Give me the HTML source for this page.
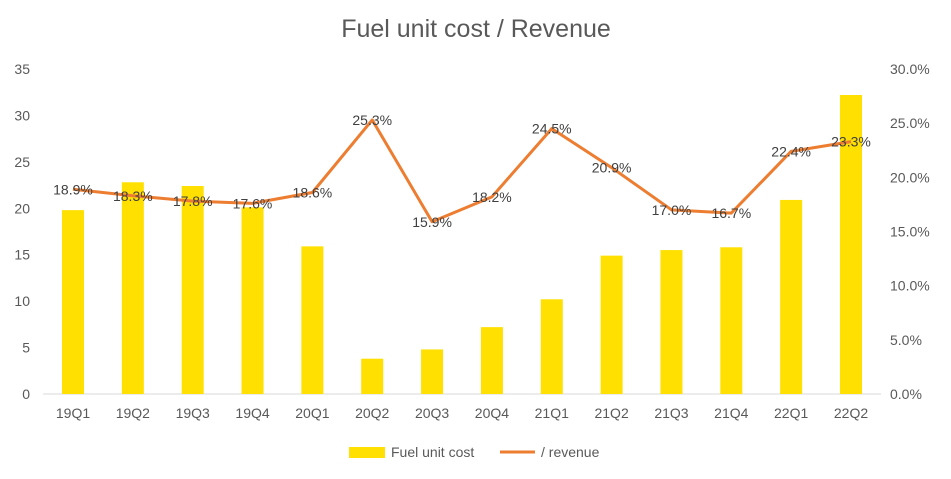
<!DOCTYPE html>
<html><head><meta charset="utf-8"><style>
html,body{margin:0;padding:0;background:#fff;}
svg{display:block;font-family:"Liberation Sans",Arial,sans-serif;}
</style></head><body>
<svg id="chart" width="951" height="479">
<text x="476" y="37" text-anchor="middle" font-size="25" fill="#595959">Fuel unit cost / Revenue</text>
<g id="axes"></g><g id="bars"></g><g id="line"></g><g id="labels"></g>
<g>
<rect x="349" y="447" width="36" height="11" fill="#FFE000"/>
<text x="391" y="457" font-size="14" fill="#595959">Fuel unit cost</text>
<line x1="500" y1="452" x2="535" y2="452" stroke="#ED7D31" stroke-width="3"/>
<text x="541" y="457" font-size="14" fill="#595959">/ revenue</text>
</g>
</svg>
<script>
const categories=["19Q1","19Q2","19Q3","19Q4","20Q1","20Q2","20Q3","20Q4","21Q1","21Q2","21Q3","21Q4","22Q1","22Q2"];
const fuelCost=[19.8,22.8,22.4,20.1,15.9,3.8,4.8,7.2,10.2,14.9,15.5,15.8,20.9,32.2];
const revenueRatio=[18.9,18.3,17.8,17.6,18.6,25.3,15.9,18.2,24.5,20.9,17.0,16.7,22.4,23.3];
const leftTicks=[0,5,10,15,20,25,30,35];
const rightTicks=[0,5,10,15,20,25,30];
const NS="http://www.w3.org/2000/svg";
const y0=394,yTop=69,x0=73,step=(851-73)/13;
const xS=i=>x0+i*step;
const yL=v=>y0-v/35*(y0-yTop);
const yR=v=>y0-v/30*(y0-yTop);
function mk(tag,attrs,parent,txt){const e=document.createElementNS(NS,tag);for(const k in attrs)e.setAttribute(k,attrs[k]);if(txt!==undefined)e.textContent=txt;document.getElementById(parent).appendChild(e);return e;}
leftTicks.forEach(t=>{const e=mk("text",{x:30,y:yL(t)+5,"text-anchor":"end","font-size":14,fill:"#595959"},"axes",t);

});
rightTicks.forEach(t=>{const e=mk("text",{x:890,y:yR(t)+5,"font-size":14,fill:"#595959"},"axes",t.toFixed(1)+"%");

});
const ax=mk("line",{x1:43,x2:881,y1:y0,y2:y0,stroke:"#d9d9d9","stroke-width":1},"axes");


categories.forEach((c,i)=>{const e=mk("text",{x:xS(i),y:418,"text-anchor":"middle","font-size":14,fill:"#595959"},"axes",c);

});
fuelCost.forEach((v,i)=>{const b=mk("rect",{x:xS(i)-11,y:yL(v),width:22,height:y0-yL(v),fill:"#FFE000"},"bars");

});
const pl=mk("polyline",{points:revenueRatio.map((v,i)=>xS(i)+","+yR(v)).join(" "),fill:"none",stroke:"#ED7D31","stroke-width":3,"stroke-linejoin":"round"},"line");


revenueRatio.forEach((v,i)=>{const t=mk("text",{x:xS(i),y:yR(v)+5,"text-anchor":"middle","font-size":14,fill:"#404040"},"labels",v.toFixed(1)+"%");

});
</script>
</body></html>
